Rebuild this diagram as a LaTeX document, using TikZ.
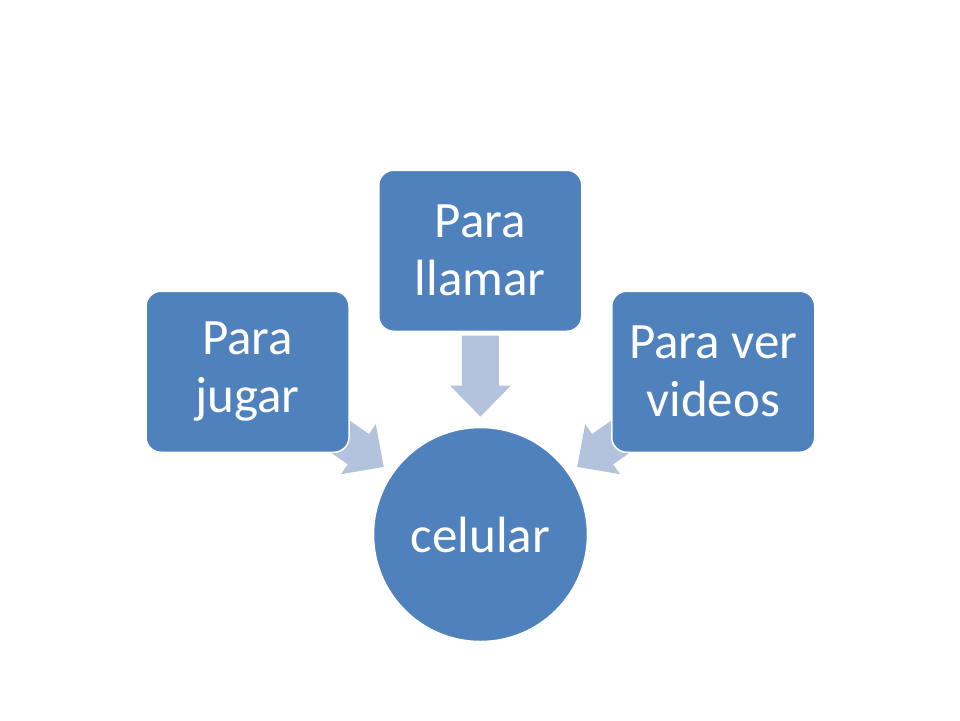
\documentclass[tikz,border=0pt]{standalone}
\usepackage{fontspec}
\setmainfont{Carlito}
\usetikzlibrary{calc}
\definecolor{boxblue}{RGB}{79,129,189}
\definecolor{arrowblue}{RGB}{179,195,222}
\tikzset{
  box/.style={rectangle, rounded corners=15pt, fill=boxblue, draw=white, line width=1.5pt,
    minimum width=203pt, minimum height=161pt, inner sep=0pt, text=white, align=center,
    font=\fontsize{51pt}{58pt}\selectfont},
  hub/.style={circle, fill=boxblue, draw=white, line width=1.5pt, minimum size=214pt,
    inner sep=0pt, text=white, font=\fontsize{51pt}{58pt}\selectfont},
  blockarrow/.style={fill=arrowblue, draw=none}
}
\newcommand{\blockarr}[2]{%
  \fill[blockarrow, shift={(#1)}, rotate=#2]
    (0,0) -- (-31,30.5) -- (-31,18.5) -- (-81,18.5) -- (-81,-18.5) -- (-31,-18.5) -- (-31,-30.5) -- cycle;}
\begin{document}
\begin{tikzpicture}[x=1pt,y=-1pt]
  \fill[white] (0,0) rectangle (960,720);
  \useasboundingbox (0,0) rectangle (960,720);
  % positions
  \coordinate (pjugar) at (247.5,371.75);
  \coordinate (pllamar) at (480.25,250.75);
  \coordinate (pvideos) at (713.25,371.75);
  \coordinate (pcel) at (480.5,534.5);
  % arrow tips, on the line from the hub to each box
  \coordinate (tjugar) at ($(pcel)!118pt!(pjugar)$);
  \coordinate (tllamar) at ($(pcel)!118pt!(pllamar)$);
  \coordinate (tvideos) at ($(pcel)!118pt!(pvideos)$);
  \blockarr{tjugar}{-34.9}
  \blockarr{tllamar}{-90}
  \blockarr{tvideos}{-145.1}
  % nodes
  \node[box] (jugar) at (pjugar) {Para\\jugar};
  \node[box] (llamar) at (pllamar) {Para\\llamar};
  \node[box] (videos) at (pvideos) {Para ver\\videos};
  \node[hub] (cel) at (pcel) {celular};
\end{tikzpicture}
\end{document}
